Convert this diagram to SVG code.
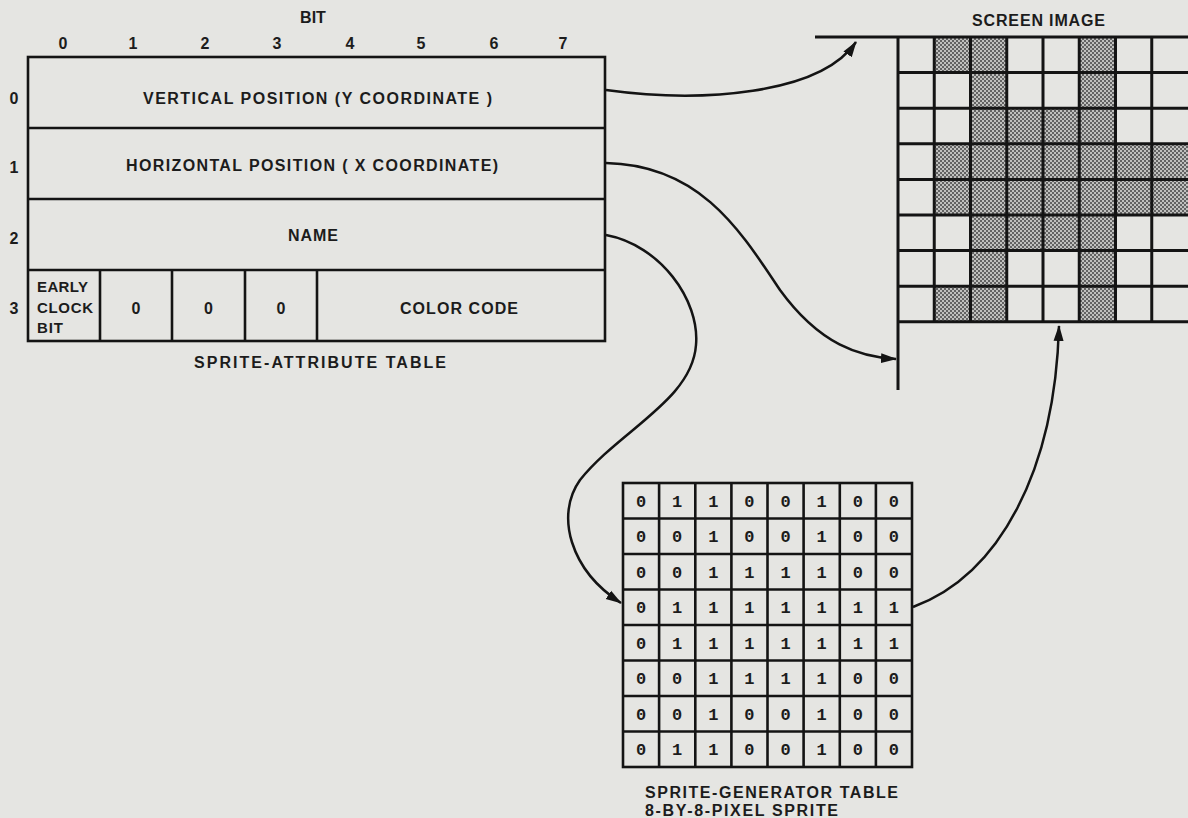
<svg xmlns="http://www.w3.org/2000/svg" width="1188" height="818" viewBox="0 0 1188 818">
  <defs>
    <style>
      .lbl { font-family: "Liberation Sans", Arial, sans-serif; font-weight: bold; font-size: 16px; fill: #1c1c1c; }
      .sm { font-size: 15px; }
      .mid { text-anchor: middle; }
      .dig { font-family: "Liberation Mono", "Courier New", monospace; font-weight: bold; font-size: 17px; fill: #1c1c1c; text-anchor: middle; }
      .tbl { fill: none; stroke: #141414; stroke-width: 2.6; }
      .grid { fill: none; stroke: #141414; stroke-width: 3; }
      .con { fill: none; stroke: #141414; stroke-width: 2.5; }
      .shade { fill: url(#dots); }
    </style>
    <pattern id="dots" width="4" height="4" patternUnits="userSpaceOnUse">
      <rect width="4" height="4" fill="#c0c0be"/>
      <circle cx="1" cy="1" r="1" fill="#444"/>
      <circle cx="3" cy="3" r="1" fill="#444"/>
    </pattern>
    <marker id="arrow" markerUnits="userSpaceOnUse" markerWidth="16" markerHeight="12" viewBox="0 0 16 12" refX="15" refY="6" orient="auto">
      <path d="M0,1 L16,6 L0,11 Z" fill="#141414"/>
    </marker>
  </defs>

  <rect x="0" y="0" width="1188" height="818" fill="#e5e5e2"/>

  <!-- Sprite attribute table -->
  <g id="sprite-attribute-table">
    <text class="lbl mid" x="313" y="23">BIT</text>
    <text class="lbl mid" x="63" y="49">0</text>
    <text class="lbl mid" x="133" y="49">1</text>
    <text class="lbl mid" x="205" y="49">2</text>
    <text class="lbl mid" x="277" y="49">3</text>
    <text class="lbl mid" x="350" y="49">4</text>
    <text class="lbl mid" x="421" y="49">5</text>
    <text class="lbl mid" x="494" y="49">6</text>
    <text class="lbl mid" x="563" y="49">7</text>

    <text class="lbl mid" x="14" y="104">0</text>
    <text class="lbl mid" x="14" y="173">1</text>
    <text class="lbl mid" x="14" y="244">2</text>
    <text class="lbl mid" x="14" y="314">3</text>

    <rect class="tbl" x="28" y="57" width="577" height="284"/>
    <line class="tbl" x1="28" y1="128" x2="605" y2="128"/>
    <line class="tbl" x1="28" y1="199" x2="605" y2="199"/>
    <line class="tbl" x1="28" y1="270" x2="605" y2="270"/>
    <line class="tbl" x1="100" y1="270" x2="100" y2="341"/>
    <line class="tbl" x1="172" y1="270" x2="172" y2="341"/>
    <line class="tbl" x1="245" y1="270" x2="245" y2="341"/>
    <line class="tbl" x1="317" y1="270" x2="317" y2="341"/>

    <text class="lbl" x="143" y="104" textLength="349" lengthAdjust="spacing">VERTICAL POSITION (Y COORDINATE )</text>
    <text class="lbl" x="126" y="171" textLength="372" lengthAdjust="spacing">HORIZONTAL POSITION ( X COORDINATE)</text>
    <text class="lbl" x="288" y="241" textLength="50" lengthAdjust="spacing">NAME</text>
    <text class="lbl sm" x="37" y="292" textLength="51" lengthAdjust="spacing">EARLY</text>
    <text class="lbl sm" x="37" y="312.5" textLength="56" lengthAdjust="spacing">CLOCK</text>
    <text class="lbl sm" x="37" y="333" textLength="26" lengthAdjust="spacing">BIT</text>
    <text class="lbl mid" x="136" y="314">0</text>
    <text class="lbl mid" x="208.5" y="314">0</text>
    <text class="lbl mid" x="281" y="314">0</text>
    <text class="lbl" x="400" y="314" textLength="118" lengthAdjust="spacing">COLOR CODE</text>
    <text class="lbl" x="194" y="368" textLength="252" lengthAdjust="spacing">SPRITE-ATTRIBUTE TABLE</text>
  </g>

  <!-- Screen image -->
  <g id="screen-image">
    <text class="lbl" x="972" y="26" textLength="133" lengthAdjust="spacing">SCREEN IMAGE</text>
    <rect class="shade" x="934.25" y="37" width="72.5" height="35.6"/>
    <rect class="shade" x="1079.25" y="37" width="36.25" height="35.6"/>
    <rect class="shade" x="970.5" y="72.6" width="36.25" height="35.6"/>
    <rect class="shade" x="1079.25" y="72.6" width="36.25" height="35.6"/>
    <rect class="shade" x="970.5" y="108.2" width="145" height="35.6"/>
    <rect class="shade" x="934.25" y="143.8" width="253.75" height="35.6"/>
    <rect class="shade" x="934.25" y="179.4" width="253.75" height="35.6"/>
    <rect class="shade" x="970.5" y="215" width="145" height="35.6"/>
    <rect class="shade" x="970.5" y="250.6" width="36.25" height="35.6"/>
    <rect class="shade" x="1079.25" y="250.6" width="36.25" height="35.6"/>
    <rect class="shade" x="934.25" y="286.2" width="72.5" height="35.6"/>
    <rect class="shade" x="1079.25" y="286.2" width="36.25" height="35.6"/>

    <line class="grid" x1="815" y1="37" x2="1188" y2="37"/>
    <line class="grid" x1="898" y1="72.6" x2="1188" y2="72.6"/>
    <line class="grid" x1="898" y1="108.2" x2="1188" y2="108.2"/>
    <line class="grid" x1="898" y1="143.8" x2="1188" y2="143.8"/>
    <line class="grid" x1="898" y1="179.4" x2="1188" y2="179.4"/>
    <line class="grid" x1="898" y1="215" x2="1188" y2="215"/>
    <line class="grid" x1="898" y1="250.6" x2="1188" y2="250.6"/>
    <line class="grid" x1="898" y1="286.2" x2="1188" y2="286.2"/>
    <line class="grid" x1="898" y1="321.8" x2="1188" y2="321.8"/>
    <line class="grid" x1="898" y1="37" x2="898" y2="390"/>
    <line class="grid" x1="934.25" y1="37" x2="934.25" y2="321.8"/>
    <line class="grid" x1="970.5" y1="37" x2="970.5" y2="321.8"/>
    <line class="grid" x1="1006.75" y1="37" x2="1006.75" y2="321.8"/>
    <line class="grid" x1="1043" y1="37" x2="1043" y2="321.8"/>
    <line class="grid" x1="1079.25" y1="37" x2="1079.25" y2="321.8"/>
    <line class="grid" x1="1115.5" y1="37" x2="1115.5" y2="321.8"/>
    <line class="grid" x1="1151.75" y1="37" x2="1151.75" y2="321.8"/>
  </g>

  <!-- Sprite generator table -->
  <g id="sprite-generator-table">
    <rect class="tbl" x="623" y="483" width="289" height="284"/>
    <line class="tbl" x1="623" y1="518.5" x2="912" y2="518.5"/>
    <line class="tbl" x1="623" y1="554" x2="912" y2="554"/>
    <line class="tbl" x1="623" y1="589.5" x2="912" y2="589.5"/>
    <line class="tbl" x1="623" y1="625" x2="912" y2="625"/>
    <line class="tbl" x1="623" y1="660.5" x2="912" y2="660.5"/>
    <line class="tbl" x1="623" y1="696" x2="912" y2="696"/>
    <line class="tbl" x1="623" y1="731.5" x2="912" y2="731.5"/>
    <line class="tbl" x1="659.1" y1="483" x2="659.1" y2="767"/>
    <line class="tbl" x1="695.3" y1="483" x2="695.3" y2="767"/>
    <line class="tbl" x1="731.4" y1="483" x2="731.4" y2="767"/>
    <line class="tbl" x1="767.5" y1="483" x2="767.5" y2="767"/>
    <line class="tbl" x1="803.6" y1="483" x2="803.6" y2="767"/>
    <line class="tbl" x1="839.8" y1="483" x2="839.8" y2="767"/>
    <line class="tbl" x1="875.9" y1="483" x2="875.9" y2="767"/>

    <text class="dig" y="506.8"><tspan x="641.1">0</tspan><tspan x="677.2">1</tspan><tspan x="713.3">1</tspan><tspan x="749.4">0</tspan><tspan x="785.6">0</tspan><tspan x="821.7">1</tspan><tspan x="857.8">0</tspan><tspan x="893.9">0</tspan></text>
    <text class="dig" y="542.3"><tspan x="641.1">0</tspan><tspan x="677.2">0</tspan><tspan x="713.3">1</tspan><tspan x="749.4">0</tspan><tspan x="785.6">0</tspan><tspan x="821.7">1</tspan><tspan x="857.8">0</tspan><tspan x="893.9">0</tspan></text>
    <text class="dig" y="577.8"><tspan x="641.1">0</tspan><tspan x="677.2">0</tspan><tspan x="713.3">1</tspan><tspan x="749.4">1</tspan><tspan x="785.6">1</tspan><tspan x="821.7">1</tspan><tspan x="857.8">0</tspan><tspan x="893.9">0</tspan></text>
    <text class="dig" y="613.3"><tspan x="641.1">0</tspan><tspan x="677.2">1</tspan><tspan x="713.3">1</tspan><tspan x="749.4">1</tspan><tspan x="785.6">1</tspan><tspan x="821.7">1</tspan><tspan x="857.8">1</tspan><tspan x="893.9">1</tspan></text>
    <text class="dig" y="648.8"><tspan x="641.1">0</tspan><tspan x="677.2">1</tspan><tspan x="713.3">1</tspan><tspan x="749.4">1</tspan><tspan x="785.6">1</tspan><tspan x="821.7">1</tspan><tspan x="857.8">1</tspan><tspan x="893.9">1</tspan></text>
    <text class="dig" y="684.3"><tspan x="641.1">0</tspan><tspan x="677.2">0</tspan><tspan x="713.3">1</tspan><tspan x="749.4">1</tspan><tspan x="785.6">1</tspan><tspan x="821.7">1</tspan><tspan x="857.8">0</tspan><tspan x="893.9">0</tspan></text>
    <text class="dig" y="719.8"><tspan x="641.1">0</tspan><tspan x="677.2">0</tspan><tspan x="713.3">1</tspan><tspan x="749.4">0</tspan><tspan x="785.6">0</tspan><tspan x="821.7">1</tspan><tspan x="857.8">0</tspan><tspan x="893.9">0</tspan></text>
    <text class="dig" y="755.3"><tspan x="641.1">0</tspan><tspan x="677.2">1</tspan><tspan x="713.3">1</tspan><tspan x="749.4">0</tspan><tspan x="785.6">0</tspan><tspan x="821.7">1</tspan><tspan x="857.8">0</tspan><tspan x="893.9">0</tspan></text>

    <text class="lbl" x="645" y="798" textLength="253" lengthAdjust="spacing">SPRITE-GENERATOR TABLE</text>
    <text class="lbl" x="645" y="816" textLength="193" lengthAdjust="spacing">8-BY-8-PIXEL SPRITE</text>
  </g>

  <!-- Connectors -->
  <g id="connectors">
    <path class="con" marker-end="url(#arrow)" d="M606,90 C700,103 820,95 856,42"/>
    <path class="con" marker-end="url(#arrow)" d="M606,163 C700,165 740,230 780,290 C820,345 860,357 896,359"/>
    <path class="con" marker-end="url(#arrow)" d="M606,235 C660,245 700,300 696,345 C692,400 620,430 580,480 C555,515 570,570 621,603"/>
    <path class="con" marker-end="url(#arrow)" d="M913,607 C1000,575 1055,470 1059,326"/>
  </g>
</svg>
